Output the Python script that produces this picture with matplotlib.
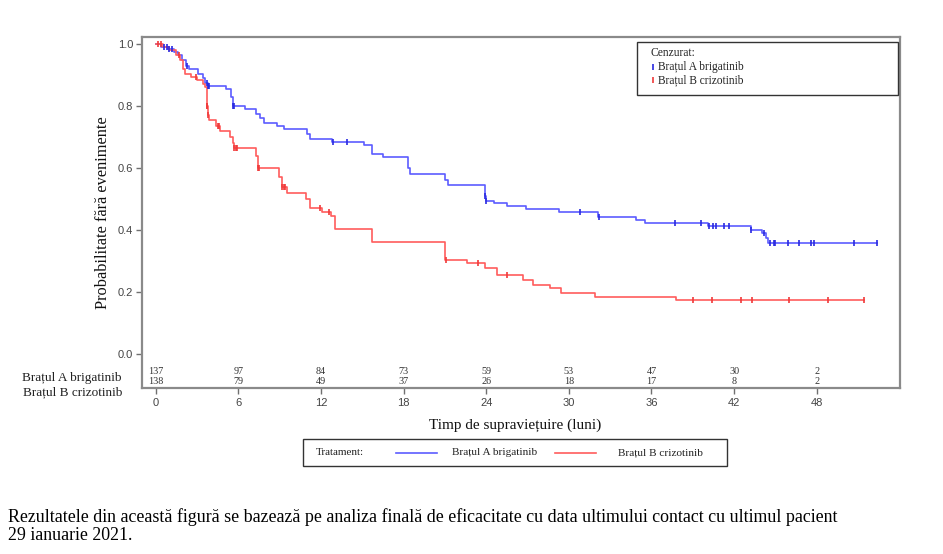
import numpy as np
import matplotlib
matplotlib.use("Agg")
import matplotlib.pyplot as plt
from matplotlib.lines import Line2D
from matplotlib.patches import Rectangle

# ---------------- data ----------------
arm_a_label = "Brațul A brigatinib"
arm_b_label = "Brațul B crizotinib"

a_times = [0, 0.4, 0.9, 1.3, 1.6, 1.9, 2.2, 2.4, 3.1, 3.4, 3.6, 3.8, 5.1, 5.5, 5.6,
           6.5, 7.3, 7.6, 7.9, 8.8, 9.3, 11.0, 11.2, 12.8, 15.1, 15.7, 16.5, 18.3,
           18.5, 21.0, 21.2, 23.9, 24.0, 24.6, 25.5, 26.9, 29.3, 32.1, 34.9, 35.5,
           40.1, 43.2, 44.0, 44.3, 44.5]
a_surv = [1.0, 0.99, 0.985, 0.975, 0.965, 0.95, 0.93, 0.92, 0.905, 0.89, 0.875,
          0.865, 0.855, 0.83, 0.80, 0.79, 0.775, 0.76, 0.745, 0.735, 0.725, 0.71,
          0.695, 0.685, 0.675, 0.645, 0.635, 0.60, 0.58, 0.56, 0.545, 0.51, 0.495,
          0.487, 0.478, 0.468, 0.459, 0.443, 0.432, 0.424, 0.413, 0.40, 0.389,
          0.373, 0.357]
a_end = 52.4
a_censor = [0.6, 0.8, 1.0, 1.2, 2.3, 3.7, 3.8, 3.9, 5.6, 5.7, 12.9, 13.9, 23.9,
            24.0, 30.8, 32.2, 37.7, 39.6, 40.2, 40.5, 40.7, 41.3, 41.6, 43.2,
            44.2, 44.6, 44.9, 45.0, 45.9, 46.7, 47.6, 47.8, 50.7, 52.4]

b_times = [0, 0.5, 1.0, 1.5, 1.8, 2.0, 2.1, 2.6, 3.0, 3.4, 3.6, 3.7, 3.8, 3.9,
           4.35, 4.7, 5.4, 5.6, 5.7, 7.25, 7.45, 8.95, 9.2, 9.5, 10.9, 11.2, 12.1,
           12.7, 13.0, 15.7, 21.0, 22.6, 23.9, 24.8, 26.7, 27.4, 28.6, 29.4, 31.9,
           37.8]
b_surv = [1.0, 0.99, 0.98, 0.965, 0.95, 0.92, 0.905, 0.895, 0.885, 0.87, 0.86,
          0.80, 0.77, 0.755, 0.735, 0.718, 0.70, 0.68, 0.665, 0.64, 0.60, 0.57,
          0.54, 0.518, 0.50, 0.47, 0.459, 0.445, 0.402, 0.362, 0.303, 0.293,
          0.278, 0.255, 0.24, 0.224, 0.212, 0.196, 0.185, 0.173]
b_end = 51.4
b_censor = [0.2, 0.4, 1.7, 2.9, 3.7, 3.75, 3.8, 4.5, 4.6, 5.7, 5.8, 5.9, 7.45,
            7.5, 9.2, 9.3, 9.4, 11.9, 12.6, 21.1, 23.4, 25.5, 39.0, 40.4, 42.5,
            43.3, 46.0, 48.8, 51.4]

risk_times = [0, 6, 12, 18, 24, 30, 36, 42, 48]
risk_a = [137, 97, 84, 73, 59, 53, 47, 30, 2]
risk_b = [138, 79, 49, 37, 26, 18, 17, 8, 2]

y_ticks = [0.0, 0.2, 0.4, 0.6, 0.8, 1.0]

# ---------------- styling ----------------
SERIF = "Liberation Serif"
SANS = "Liberation Sans"
BLUE = "#5c5cff"
RED = "#ff5c5c"
BLUE_C = "#2a2ae0"
RED_C = "#f03a3a"
W, H = 943, 554


def fx(px):
    return px / W


def fy(py):
    return 1 - py / H


fig = plt.figure(figsize=(W / 100, H / 100), dpi=100)
ax = fig.add_axes([fx(141.5), fy(388), (900 - 141.5) / W, (388 - 37) / H])


def step_curve(times, surv, end):
    t = list(times) + [end]
    s = list(surv) + [surv[-1]]
    return t, s


def surv_at(times, surv, c):
    idx = np.searchsorted(np.asarray(times), np.asarray(c), side="right") - 1
    return np.asarray(surv)[idx]


for times, surv, end, cens, col, ccol in [
    (a_times, a_surv, a_end, a_censor, BLUE, BLUE_C),
    (b_times, b_surv, b_end, b_censor, RED, RED_C),
]:
    t, s = step_curve(times, surv, end)
    ax.step(t, s, where="post", color=col, lw=1.2, zorder=3)
    ax.plot(cens, surv_at(times, surv, cens), ls="none", marker="|",
            markersize=4.5, markeredgewidth=1.2, color=ccol, zorder=4)

ax.set_xlim(-1.03, 54.05)
ax.set_ylim(-0.110, 1.023)

ax.set_yticks(y_ticks)
ax.set_yticklabels([f"{v:.1f}" for v in y_ticks])
ax.set_xticks(risk_times)
ax.set_xticklabels([str(v) for v in risk_times])
ax.tick_params(axis="both", direction="out", length=4, width=1, color="#707070",
               labelcolor="#444444", labelsize=8)
for lab in ax.get_xticklabels() + ax.get_yticklabels():
    lab.set_fontfamily(SANS)
ax.tick_params(axis="y", pad=2)
ax.tick_params(axis="x", pad=3)

for sp in ax.spines.values():
    sp.set_color("#8a8a8a")
    sp.set_linewidth(1.6)

# at-risk numbers inside the axes
for x, na, nb in zip(risk_times, risk_a, risk_b):
    ax.text(x, -0.057, str(na), ha="center", va="center", fontsize=7.3,
            family=SERIF, color="#333333")
    ax.text(x, -0.089, str(nb), ha="center", va="center", fontsize=7.3,
            family=SERIF, color="#333333")

fig.text(fx(122), fy(378), arm_a_label, ha="right", va="center",
         fontsize=9.5, family=SERIF, color="#222222")
fig.text(fx(122), fy(392), arm_b_label, ha="right", va="center",
         fontsize=9.5, family=SERIF, color="#222222")

ax.set_xlabel("Timp de supraviețuire (luni)", family=SERIF, fontsize=11,
              color="#111111")
ax.set_ylabel("Probabilitate fără evenimente", family=SERIF, fontsize=11.8,
              color="#111111")
ax.xaxis.set_label_coords((515 - 141.5) / (900 - 141.5), -(425 - 388) / (388 - 37))
ax.yaxis.set_label_coords(-(141.5 - 103) / (900 - 141.5), 0.5)
ax.yaxis.label.set_va("center")
ax.xaxis.label.set_va("center")

# censor legend (top right)
fig.patches.append(Rectangle((fx(637), fy(95)), (898 - 637) / W, (95 - 41.7) / H,
                             transform=fig.transFigure, fill=True, facecolor="white",
                             edgecolor="#333333", lw=1.0, zorder=5))
fig.text(fx(650.5), fy(53.3), "Cenzurat:", ha="left", va="center", fontsize=8.3,
         family=SERIF, color="#222222", zorder=6)
for yy, lab, cc in [(66.7, arm_a_label, BLUE_C), (80, arm_b_label, RED_C)]:
    fig.add_artist(Line2D([fx(653.3)], [fy(yy)], transform=fig.transFigure,
                          ls="none", marker="|", markersize=5, markeredgewidth=1.2,
                          color=cc, zorder=6))
    fig.text(fx(657.5), fy(yy), lab, ha="left", va="center", fontsize=8.3,
             family=SERIF, color="#222222", zorder=6)

# treatment legend (bottom)
fig.patches.append(Rectangle((fx(302.7), fy(465.7)), (727.3 - 302.7) / W,
                             (465.7 - 439.3) / H, transform=fig.transFigure,
                             fill=False, edgecolor="#333333", lw=1.0))
yc = fy(452.7)
fig.text(fx(316), yc, "Tratament:", ha="left", va="center", fontsize=8,
         family=SERIF, color="#222222")
fig.add_artist(Line2D([fx(396), fx(437)], [yc, yc], transform=fig.transFigure,
                      color=BLUE, lw=1.2))
fig.text(fx(452), yc, arm_a_label, ha="left", va="center", fontsize=8.1,
         family=SERIF, color="#222222")
fig.add_artist(Line2D([fx(555), fx(596)], [yc, yc], transform=fig.transFigure,
                      color=RED, lw=1.2))
fig.text(fx(618), yc, arm_b_label, ha="left", va="center", fontsize=8.1,
         family=SERIF, color="#222222")

# footnote
fig.text(fx(8), fy(517),
         "Rezultatele din această figură se bazează pe analiza finală de eficacitate "
         "cu data ultimului contact cu ultimul pacient",
         ha="left", va="center", fontsize=12.9, family=SERIF, color="black")
fig.text(fx(8), fy(536), "29 ianuarie 2021.", ha="left", va="center",
         fontsize=12.9, family=SERIF, color="black")

fig.savefig("out.png", dpi=100)
